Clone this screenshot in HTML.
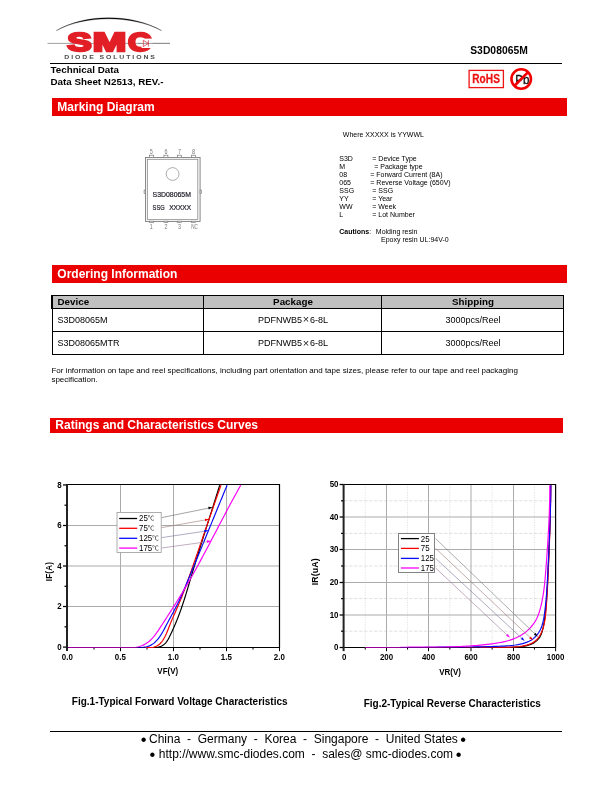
<!DOCTYPE html>
<html><head><meta charset="utf-8"><title>S3D08065M</title>
<style>
html,body{margin:0;padding:0;background:#fff;}
body{width:612px;height:792px;position:relative;overflow:hidden;font-family:"Liberation Sans","Noto Sans CJK SC",sans-serif;color:#000;}
.a{position:absolute;white-space:pre;line-height:1;}
.b{font-weight:bold;}
.bar{position:absolute;left:52px;width:515px;height:18px;background:#ea0000;color:#fff;font-weight:bold;font-size:12px;line-height:18px;padding-left:5.3px;box-sizing:border-box;white-space:nowrap;}
.hl{position:absolute;background:#000;}
.m{font-size:7px;}
.bu{display:inline-block;width:4.2px;font-size:16.5px;line-height:0;position:relative;top:1.7px;left:-0.8px;}
.x{font-size:11px;line-height:0;padding:0 0.7px;color:#222;position:relative;top:0.6px;}
.tb{position:absolute;box-sizing:border-box;}
.tc{position:absolute;font-size:9px;line-height:1;white-space:nowrap;text-align:center;}
svg{position:absolute;overflow:visible;}
svg text{font-family:"Liberation Sans","Noto Sans CJK SC",sans-serif;}
.tk{font-size:8px;font-weight:bold;}
.lg{font-size:8px;}
</style></head><body>
<!-- logo -->
<svg style="left:0;top:0" width="220" height="64" viewBox="0 0 220 64">
<path d="M56.4 30.6 C 85 13.5, 132 13.5, 161.5 30.6 C 132 14.9, 85 14.9, 56.4 30.6 Z" fill="#000" stroke="#000" stroke-width="0.3"/>
<line x1="47.5" y1="43.4" x2="170" y2="43.4" stroke="#888" stroke-width="0.8"/>
<g font-weight="bold" font-size="26.6" fill="#e21f26" stroke="#e21f26" stroke-width="2.4" stroke-linejoin="miter">
<text transform="translate(67.35,51.05) scale(1.376,1)">S</text>
<text transform="translate(92.75,51.05) scale(1.512,1)">M</text>
<text transform="translate(128,51.05) scale(1.214,1)">C</text>
</g>
<rect x="141.5" y="38.6" width="11" height="9.4" fill="#fff"/>
<line x1="138" y1="43.4" x2="170" y2="43.4" stroke="#888" stroke-width="0.8"/>
<path d="M143.3 40.2 V46.6 L148.2 43.4 Z M148.4 40.2 V46.6" fill="none" stroke="#c23" stroke-width="0.7"/>
<text transform="translate(64.3,58.55) scale(1.5,1)" font-weight="bold" font-size="4.6" letter-spacing="1.27" fill="#4a4a4a">DIODE SOLUTIONS</text>
</svg>
<!-- header -->
<div class="hl" style="left:50px;top:63px;width:512px;height:1px;"></div>
<div class="a b" style="left:50.5px;top:65px;font-size:9.8px;">Technical Data</div>
<div class="a b" style="left:50.5px;top:76.7px;font-size:9.8px;">Data Sheet N2513, REV.-</div>
<div class="a b" style="left:470.2px;top:46px;font-size:10.3px;letter-spacing:0.05px;">S3D08065M</div>
<svg style="left:460px;top:64px" width="80" height="30" viewBox="460 64 80 30">
<rect x="469.1" y="70.4" width="34.3" height="17.2" fill="#fff" stroke="#ee1414" stroke-width="1.3"/>
<text x="472.3" y="83.4" font-weight="bold" font-size="12.6" fill="#ee1414" stroke="#ee1414" stroke-width="0.3" textLength="27.6" lengthAdjust="spacingAndGlyphs">RoHS</text>
<text x="515.2" y="83.7" font-size="13.5" fill="#111" stroke="#111" stroke-width="0.35" textLength="14.1" lengthAdjust="spacingAndGlyphs">Pb</text>
<circle cx="521.2" cy="79.05" r="9.75" fill="none" stroke="#f20000" stroke-width="2.6"/>
<line x1="528.1" y1="72.1" x2="514.3" y2="86" stroke="#f20000" stroke-width="2.6"/>
</svg>
<div class="bar" style="top:98px;">Marking Diagram</div>
<!-- package outline -->
<svg style="left:0;top:0" width="612" height="260" viewBox="0 0 612 260">
<rect x="145.4" y="157.4" width="54.7" height="64" fill="#f4f4f4" stroke="#707070" stroke-width="0.8"/>
<rect x="147.5" y="159.3" width="50.3" height="60.3" fill="#fff" stroke="#808080" stroke-width="0.7"/>
<g fill="#fff" stroke="#7a7a7a" stroke-width="0.7">
<circle cx="172.6" cy="174" r="6.4" stroke="#8a8a8a"/>
<rect x="149.4" y="155.2" width="4.3" height="2.3"/><rect x="163.9" y="155.2" width="4" height="2.3"/><rect x="177.5" y="155.2" width="4" height="2.3"/><rect x="191.5" y="155.2" width="4" height="2.3"/>
<rect x="149.4" y="221.2" width="4.3" height="1.3"/><rect x="163.9" y="221.2" width="4" height="1.3"/><rect x="177.3" y="221.2" width="4.2" height="1.3"/><rect x="191.5" y="221.2" width="4.1" height="1.3"/>
<rect x="144.1" y="190.1" width="1.2" height="3.4"/><rect x="200.1" y="190.1" width="1.2" height="3.4"/>
</g>
<g font-size="6.8" fill="#777" text-anchor="middle">
<text transform="translate(151.3,153.7) scale(0.8,1)">5</text><text transform="translate(165.9,153.7) scale(0.8,1)">6</text><text transform="translate(179.5,153.7) scale(0.8,1)">7</text><text transform="translate(193.5,153.7) scale(0.8,1)">8</text>
<text transform="translate(151.3,229) scale(0.8,1)">1</text><text transform="translate(165.9,229) scale(0.8,1)">2</text><text transform="translate(179.5,229) scale(0.8,1)">3</text><text transform="translate(194.6,229) scale(0.72,1)" font-size="6.4">NC</text>
</g>
<g font-size="7" fill="#1c1c28" stroke="#1c1c28" stroke-width="0.2">
<text x="152.6" y="197.4" textLength="38.3" lengthAdjust="spacingAndGlyphs">S3D08065M</text>
<text x="152.6" y="210" textLength="12" lengthAdjust="spacingAndGlyphs">SSG</text>
<text x="169.2" y="210" textLength="21.9" lengthAdjust="spacingAndGlyphs">XXXXX</text>
</g>
</svg>
<!-- marking text -->
<div class="a m" style="left:342.8px;top:131.3px;">Where XXXXX is YYWWL</div>
<div class="a m" style="left:339.3px;top:155.40px;">S3D</div><div class="a m" style="left:372.3px;top:155.40px;">= Device Type</div>
<div class="a m" style="left:339.3px;top:163.35px;">M</div><div class="a m" style="left:374.2px;top:163.35px;">= Package type</div>
<div class="a m" style="left:339.3px;top:171.30px;">08</div><div class="a m" style="left:370.3px;top:171.30px;">= Forward Current (8A)</div>
<div class="a m" style="left:339.3px;top:179.25px;">065</div><div class="a m" style="left:370.3px;top:179.25px;">= Reverse Voltage (650V)</div>
<div class="a m" style="left:339.3px;top:187.20px;">SSG</div><div class="a m" style="left:372.3px;top:187.20px;">= SSG</div>
<div class="a m" style="left:339.3px;top:195.15px;">YY</div><div class="a m" style="left:372.3px;top:195.15px;">= Year</div>
<div class="a m" style="left:339.3px;top:203.10px;">WW</div><div class="a m" style="left:372.3px;top:203.10px;">= Week</div>
<div class="a m" style="left:339.3px;top:211.05px;">L</div><div class="a m" style="left:372.3px;top:211.05px;">= Lot Number</div>
<div class="a m b" style="left:339.3px;top:227.8px;">Cautions</div><div class="a m" style="left:368.6px;top:227.8px;font-size:7px;color:#666">：</div><div class="a m" style="left:375.8px;top:227.8px;">Molding resin</div>
<div class="a m" style="left:381px;top:235.8px;">Epoxy resin UL:94V-0</div>
<div class="bar" style="top:265px;">Ordering Information</div>
<!-- table -->
<div class="tb" style="left:52px;top:296px;width:511px;height:13px;background:#c0c0c0;"></div>
<div class="tb" style="left:52px;top:295px;width:512px;height:60px;border:1px solid #000;"></div>
<div class="hl" style="left:51px;top:295px;width:1px;height:14px;"></div>
<div class="hl" style="left:52px;top:308px;width:512px;height:1px;"></div>
<div class="hl" style="left:52px;top:331px;width:512px;height:1px;"></div>
<div class="hl" style="left:203px;top:295px;width:1px;height:60px;"></div>
<div class="hl" style="left:381px;top:295px;width:1px;height:60px;"></div>
<div class="tc b" style="left:57.5px;top:297.2px;font-size:9.8px;">Device</div>
<div class="tc b" style="left:204px;width:178px;top:297.2px;font-size:9.8px;">Package</div>
<div class="tc b" style="left:382px;width:182px;top:297.2px;font-size:9.8px;">Shipping</div>
<div class="tc" style="left:57.5px;top:315.5px;">S3D08065M</div>
<div class="tc" style="left:204px;width:178px;top:315.5px;">PDFNWB5<span class="x">×</span>6-8L</div>
<div class="tc" style="left:382px;width:182px;top:315.5px;">3000pcs/Reel</div>
<div class="tc" style="left:57.5px;top:339px;">S3D08065MTR</div>
<div class="tc" style="left:204px;width:178px;top:339px;">PDFNWB5<span class="x">×</span>6-8L</div>
<div class="tc" style="left:382px;width:182px;top:339px;">3000pcs/Reel</div>
<div class="a" style="left:51.4px;top:366px;font-size:8px;line-height:9.2px;">For information on tape and reel specifications, including part orientation and tape sizes, please refer to our tape and reel packaging
specification.</div>

<div class="bar" style="top:418px;left:50px;width:513px;height:15px;line-height:15px;">Ratings and Characteristics Curves</div>
<svg style="left:0;top:0" width="612" height="792" viewBox="0 0 612 792">
<g id="fig1">
<line x1="120.5" y1="484.5" x2="120.5" y2="647.5" stroke="#ababab" stroke-width="1"/>
<line x1="173.5" y1="484.5" x2="173.5" y2="647.5" stroke="#ababab" stroke-width="1"/>
<line x1="226.5" y1="484.5" x2="226.5" y2="647.5" stroke="#ababab" stroke-width="1"/>
<line x1="67.5" y1="606.5" x2="279.5" y2="606.5" stroke="#ababab" stroke-width="1"/>
<line x1="67.5" y1="566" x2="279.5" y2="566" stroke="#ababab" stroke-width="1"/>
<line x1="67.5" y1="525.5" x2="279.5" y2="525.5" stroke="#ababab" stroke-width="1"/>
<rect x="117" y="512.5" width="44.2" height="40" fill="#fff" stroke="#999" stroke-width="0.8"/>
<line x1="119.2" y1="518.5" x2="137.2" y2="518.5" stroke="#000000" stroke-width="1.3"/>
<text transform="translate(139,521.4) scale(0.9,1)" font-size="8.8" text-anchor="start">25</text>
<text transform="translate(147.8,520.3) scale(0.9,0.8)" font-size="7.4" fill="#2a2a2a">℃</text>
<line x1="119.2" y1="528.3" x2="137.2" y2="528.3" stroke="#f80000" stroke-width="1.3"/>
<text transform="translate(139,531.2) scale(0.9,1)" font-size="8.8" text-anchor="start">75</text>
<text transform="translate(147.8,530.1) scale(0.9,0.8)" font-size="7.4" fill="#2a2a2a">℃</text>
<line x1="119.2" y1="538.3" x2="137.2" y2="538.3" stroke="#0a0af8" stroke-width="1.3"/>
<text transform="translate(139,541.2) scale(0.9,1)" font-size="8.8" text-anchor="start">125</text>
<text transform="translate(152.2,540.1) scale(0.9,0.8)" font-size="7.4" fill="#2a2a2a">℃</text>
<line x1="119.2" y1="548.1" x2="137.2" y2="548.1" stroke="#f800f8" stroke-width="1.3"/>
<text transform="translate(139,551) scale(0.9,1)" font-size="8.8" text-anchor="start">175</text>
<text transform="translate(152.2,549.9) scale(0.9,0.8)" font-size="7.4" fill="#2a2a2a">℃</text>
<path d="M67 484.5 H279.5 V647.5 H67" fill="none" stroke="#000" stroke-width="1.2"/>
<line x1="67" y1="483.9" x2="67" y2="651.1" stroke="#222" stroke-width="2"/>
<clipPath id="cp1"><rect x="68.4" y="483.85" width="211.1" height="164.5"/></clipPath>
<g clip-path="url(#cp1)">
<path d="M67.5 647.5 L155 647.5 L157.36 647.5 L159.46 646.87 L161.33 646.2 L162.97 645.28 L164.43 644.15 L165.72 642.85 L166.87 641.39 L167.9 639.8 L168.84 638.11 L169.72 636.35 L170.58 634.56 L171.43 632.73 L172.27 630.9 L173.11 629.04 L173.94 627.18 L174.76 625.3 L175.56 623.41 L176.35 621.52 L177.12 619.62 L177.88 617.72 L178.61 615.82 L179.33 613.92 L180.03 612.02 L180.72 610.11 L181.39 608.2 L182.04 606.29 L182.69 604.38 L183.32 602.47 L183.94 600.56 L184.56 598.64 L185.16 596.73 L185.76 594.81 L186.35 592.9 L186.93 590.98 L187.51 589.06 L188.08 587.14 L188.65 585.22 L189.22 583.3 L189.79 581.37 L190.36 579.45 L190.93 577.53 L191.5 575.61 L192.07 573.68 L192.65 571.76 L193.23 569.84 L193.81 567.91 L194.39 565.99 L194.98 564.06 L195.56 562.14 L196.15 560.21 L196.74 558.29 L197.34 556.36 L197.93 554.43 L198.53 552.51 L199.12 550.58 L199.72 548.66 L200.32 546.73 L200.92 544.8 L201.53 542.88 L202.13 540.95 L202.74 539.03 L203.34 537.1 L203.95 535.17 L204.55 533.25 L205.16 531.32 L205.77 529.4 L206.38 527.47 L206.99 525.55 L207.6 523.62 L208.21 521.7 L208.82 519.77 L209.43 517.85 L210.03 515.93 L210.64 514 L211.25 512.08 L211.86 510.16 L212.47 508.23 L213.08 506.31 L213.68 504.39 L214.29 502.47 L214.9 500.55 L215.5 498.63 L216.1 496.71 L216.71 494.79 L217.31 492.87 L217.91 490.95 L218.51 489.03 L219.1 487.12 L219.7 485.2" fill="none" stroke="#000000" stroke-width="1.18" stroke-linejoin="round"/>
<path d="M67.5 647.5 L149 647.5 L151.36 647.5 L153.5 647.22 L155.45 646.66 L157.21 645.83 L158.8 644.77 L160.24 643.5 L161.53 642.06 L162.7 640.49 L163.77 638.82 L164.74 637.08 L165.63 635.29 L166.46 633.45 L167.25 631.57 L168.01 629.67 L168.75 627.75 L169.5 625.82 L170.26 623.89 L171.04 621.97 L171.84 620.05 L172.66 618.13 L173.49 616.22 L174.32 614.31 L175.16 612.4 L176 610.5 L176.84 608.59 L177.67 606.69 L178.5 604.79 L179.31 602.89 L180.11 600.99 L180.88 599.1 L181.64 597.2 L182.39 595.3 L183.12 593.4 L183.84 591.5 L184.54 589.6 L185.24 587.7 L185.93 585.79 L186.61 583.89 L187.29 581.98 L187.97 580.07 L188.65 578.15 L189.33 576.24 L190.01 574.32 L190.68 572.4 L191.36 570.47 L192.03 568.55 L192.71 566.62 L193.38 564.69 L194.05 562.75 L194.72 560.82 L195.4 558.88 L196.07 556.94 L196.74 555.01 L197.41 553.07 L198.08 551.12 L198.75 549.18 L199.42 547.24 L200.09 545.29 L200.76 543.35 L201.43 541.4 L202.1 539.45 L202.77 537.51 L203.44 535.56 L204.11 533.61 L204.78 531.67 L205.45 529.72 L206.12 527.77 L206.79 525.82 L207.46 523.88 L208.13 521.93 L208.8 519.98 L209.48 518.04 L210.15 516.1 L210.82 514.15 L211.49 512.21 L212.17 510.27 L212.84 508.33 L213.52 506.39 L214.19 504.46 L214.87 502.52 L215.55 500.59 L216.23 498.66 L216.91 496.73 L217.59 494.8 L218.27 492.88 L218.95 490.95 L219.63 489.03 L220.31 487.11 L221 485.2" fill="none" stroke="#f80000" stroke-width="1.18" stroke-linejoin="round"/>
<path d="M67.5 647.5 L140 647.5 L142.34 647.5 L144.57 647.12 L146.67 646.75 L148.67 646.18 L150.55 645.38 L152.32 644.35 L153.99 643.11 L155.54 641.71 L156.99 640.18 L158.34 638.56 L159.59 636.88 L160.76 635.15 L161.86 633.38 L162.91 631.57 L163.92 629.72 L164.91 627.86 L165.89 625.97 L166.88 624.08 L167.88 622.18 L168.9 620.29 L169.92 618.39 L170.95 616.48 L171.99 614.58 L173.02 612.67 L174.04 610.76 L175.05 608.84 L176.05 606.93 L177.03 605.01 L177.98 603.08 L178.91 601.16 L179.81 599.23 L180.69 597.3 L181.55 595.37 L182.4 593.44 L183.24 591.5 L184.06 589.56 L184.88 587.62 L185.7 585.67 L186.52 583.73 L187.34 581.78 L188.15 579.82 L188.97 577.87 L189.78 575.91 L190.6 573.96 L191.41 572 L192.22 570.03 L193.04 568.07 L193.85 566.1 L194.67 564.14 L195.48 562.17 L196.29 560.2 L197.1 558.23 L197.92 556.25 L198.73 554.28 L199.54 552.31 L200.35 550.33 L201.16 548.35 L201.97 546.38 L202.78 544.4 L203.6 542.42 L204.41 540.44 L205.22 538.46 L206.03 536.48 L206.84 534.5 L207.65 532.52 L208.46 530.54 L209.27 528.56 L210.08 526.58 L210.89 524.6 L211.7 522.62 L212.51 520.64 L213.32 518.67 L214.13 516.69 L214.94 514.71 L215.75 512.73 L216.56 510.76 L217.37 508.78 L218.18 506.81 L218.99 504.84 L219.8 502.87 L220.61 500.9 L221.42 498.93 L222.23 496.96 L223.04 495 L223.85 493.03 L224.67 491.07 L225.48 489.11 L226.29 487.16 L227.1 485.2" fill="none" stroke="#0a0af8" stroke-width="1.18" stroke-linejoin="round"/>
<path d="M67.5 647.5 L128 647.5 L130.46 647.5 L132.85 647.5 L135.18 647.5 L137.44 647.04 L139.62 646.52 L141.73 645.81 L143.75 644.91 L145.68 643.84 L147.52 642.6 L149.27 641.22 L150.92 639.71 L152.48 638.09 L153.95 636.36 L155.36 634.56 L156.72 632.7 L158.04 630.79 L159.33 628.86 L160.6 626.92 L161.87 624.98 L163.14 623.04 L164.4 621.1 L165.66 619.16 L166.91 617.23 L168.16 615.3 L169.41 613.36 L170.64 611.43 L171.88 609.5 L173.1 607.56 L174.33 605.63 L175.54 603.69 L176.75 601.75 L177.96 599.81 L179.16 597.86 L180.35 595.92 L181.53 593.96 L182.71 592.01 L183.88 590.05 L185.05 588.08 L186.21 586.11 L187.36 584.14 L188.5 582.16 L189.64 580.17 L190.78 578.18 L191.91 576.19 L193.03 574.2 L194.15 572.2 L195.26 570.19 L196.37 568.19 L197.47 566.18 L198.57 564.16 L199.67 562.15 L200.76 560.13 L201.85 558.11 L202.94 556.09 L204.02 554.07 L205.1 552.04 L206.18 550.01 L207.25 547.98 L208.32 545.95 L209.4 543.92 L210.47 541.88 L211.53 539.85 L212.6 537.82 L213.67 535.78 L214.73 533.74 L215.8 531.71 L216.86 529.67 L217.93 527.64 L218.99 525.6 L220.06 523.56 L221.13 521.53 L222.19 519.5 L223.26 517.46 L224.33 515.43 L225.4 513.4 L226.48 511.37 L227.55 509.34 L228.63 507.32 L229.71 505.29 L230.79 503.27 L231.88 501.25 L232.97 499.24 L234.06 497.22 L235.16 495.21 L236.26 493.2 L237.36 491.2 L238.47 489.19 L239.58 487.2 L240.7 485.2" fill="none" stroke="#f800f8" stroke-width="1.18" stroke-linejoin="round"/>
</g>
<line x1="67.5" y1="647.5" x2="145" y2="647.5" stroke="#000" stroke-width="1" opacity="0.38"/>
<line x1="161.8" y1="517.6" x2="209.6" y2="507.9" stroke="#666" stroke-width="0.6"/>
<path d="M212.6 507.3 L208.74 509.41 L208.23 506.86 Z" fill="#000000"/>
<line x1="161.8" y1="527.6" x2="206.2" y2="519.8" stroke="#977" stroke-width="0.6"/>
<path d="M209.2 519.2 L205.29 521.21 L204.84 518.65 Z" fill="#f80000"/>
<line x1="161.8" y1="537.6" x2="205.6" y2="531.1" stroke="#779" stroke-width="0.6"/>
<path d="M208.6 530.5 L204.64 532.42 L204.25 529.84 Z" fill="#0a0af8"/>
<line x1="161.8" y1="548" x2="208.2" y2="541.6" stroke="#979" stroke-width="0.6"/>
<path d="M211.2 541 L207.22 542.88 L206.86 540.3 Z" fill="#f800f8"/>
<line x1="63" y1="647.1" x2="66.5" y2="647.1" stroke="#000" stroke-width="1.25"/>
<line x1="64.5" y1="626.83" x2="66.5" y2="626.83" stroke="#000" stroke-width="1.25"/>
<line x1="63" y1="606.5" x2="66.5" y2="606.5" stroke="#000" stroke-width="1.25"/>
<line x1="64.5" y1="586.29" x2="66.5" y2="586.29" stroke="#000" stroke-width="1.25"/>
<line x1="63" y1="566" x2="66.5" y2="566" stroke="#000" stroke-width="1.25"/>
<line x1="64.5" y1="545.75" x2="66.5" y2="545.75" stroke="#000" stroke-width="1.25"/>
<line x1="63" y1="525.5" x2="66.5" y2="525.5" stroke="#000" stroke-width="1.25"/>
<line x1="64.5" y1="505.21" x2="66.5" y2="505.21" stroke="#000" stroke-width="1.25"/>
<line x1="63" y1="484.94" x2="66.5" y2="484.94" stroke="#000" stroke-width="1.25"/>
<line x1="94" y1="648" x2="94" y2="649.6" stroke="#000" stroke-width="1"/>
<line x1="120.5" y1="648" x2="120.5" y2="651.2" stroke="#000" stroke-width="1"/>
<line x1="147" y1="648" x2="147" y2="649.6" stroke="#000" stroke-width="1"/>
<line x1="173.5" y1="648" x2="173.5" y2="651.2" stroke="#000" stroke-width="1"/>
<line x1="200" y1="648" x2="200" y2="649.6" stroke="#000" stroke-width="1"/>
<line x1="226.5" y1="648" x2="226.5" y2="651.2" stroke="#000" stroke-width="1"/>
<line x1="253" y1="648" x2="253" y2="649.6" stroke="#000" stroke-width="1"/>
<line x1="279.5" y1="648" x2="279.5" y2="651.2" stroke="#000" stroke-width="1"/>
<text transform="translate(61.6,650) scale(0.88,1)" font-size="9" font-weight="bold" text-anchor="end">0</text>
<text transform="translate(61.6,609.4) scale(0.88,1)" font-size="9" font-weight="bold" text-anchor="end">2</text>
<text transform="translate(61.6,568.9) scale(0.88,1)" font-size="9" font-weight="bold" text-anchor="end">4</text>
<text transform="translate(61.6,528.4) scale(0.88,1)" font-size="9" font-weight="bold" text-anchor="end">6</text>
<text transform="translate(61.6,487.84) scale(0.88,1)" font-size="9" font-weight="bold" text-anchor="end">8</text>
<text transform="translate(67.3,659.6) scale(0.88,1)" font-size="9" font-weight="bold" text-anchor="middle">0.0</text>
<text transform="translate(120.3,659.6) scale(0.88,1)" font-size="9" font-weight="bold" text-anchor="middle">0.5</text>
<text transform="translate(173.3,659.6) scale(0.88,1)" font-size="9" font-weight="bold" text-anchor="middle">1.0</text>
<text transform="translate(226.3,659.6) scale(0.88,1)" font-size="9" font-weight="bold" text-anchor="middle">1.5</text>
<text transform="translate(279.3,659.6) scale(0.88,1)" font-size="9" font-weight="bold" text-anchor="middle">2.0</text>
<text transform="translate(157.3,674.3) scale(0.93,1)" font-size="8.6" font-weight="bold" text-anchor="start">VF(V)</text>
<text transform="translate(51.6,581.2) rotate(-90) scale(0.86,1)" font-size="9.4" font-weight="bold" letter-spacing="0.2">IF(A)</text>
<text x="71.8" y="705.1" font-weight="bold" font-size="10">Fig.1-Typical Forward Voltage Characteristics</text>
</g>
<g id="fig2">
<line x1="365.25" y1="484.5" x2="365.25" y2="647.5" stroke="#e2e2e2" stroke-width="1" stroke-dasharray="1.2 1.3"/>
<line x1="407.55" y1="484.5" x2="407.55" y2="647.5" stroke="#e2e2e2" stroke-width="1" stroke-dasharray="1.2 1.3"/>
<line x1="449.85" y1="484.5" x2="449.85" y2="647.5" stroke="#e2e2e2" stroke-width="1" stroke-dasharray="1.2 1.3"/>
<line x1="492.15" y1="484.5" x2="492.15" y2="647.5" stroke="#e2e2e2" stroke-width="1" stroke-dasharray="1.2 1.3"/>
<line x1="534.45" y1="484.5" x2="534.45" y2="647.5" stroke="#e2e2e2" stroke-width="1" stroke-dasharray="1.2 1.3"/>
<line x1="344.1" y1="631.2" x2="555.6" y2="631.2" stroke="#e0e0e0" stroke-width="1" stroke-dasharray="3.4 1.6"/>
<line x1="344.1" y1="598.6" x2="555.6" y2="598.6" stroke="#e0e0e0" stroke-width="1" stroke-dasharray="3.4 1.6"/>
<line x1="344.1" y1="566" x2="555.6" y2="566" stroke="#e0e0e0" stroke-width="1" stroke-dasharray="3.4 1.6"/>
<line x1="344.1" y1="533.4" x2="555.6" y2="533.4" stroke="#e0e0e0" stroke-width="1" stroke-dasharray="3.4 1.6"/>
<line x1="344.1" y1="500.8" x2="555.6" y2="500.8" stroke="#e0e0e0" stroke-width="1" stroke-dasharray="3.4 1.6"/>
<line x1="386.5" y1="484.5" x2="386.5" y2="647.5" stroke="#ababab" stroke-width="1"/>
<line x1="428.5" y1="484.5" x2="428.5" y2="647.5" stroke="#ababab" stroke-width="1"/>
<line x1="471" y1="484.5" x2="471" y2="647.5" stroke="#ababab" stroke-width="1"/>
<line x1="513.5" y1="484.5" x2="513.5" y2="647.5" stroke="#ababab" stroke-width="1"/>
<line x1="344.1" y1="615" x2="555.6" y2="615" stroke="#ababab" stroke-width="1"/>
<line x1="344.1" y1="582.5" x2="555.6" y2="582.5" stroke="#ababab" stroke-width="1"/>
<line x1="344.1" y1="549.5" x2="555.6" y2="549.5" stroke="#ababab" stroke-width="1"/>
<line x1="344.1" y1="517" x2="555.6" y2="517" stroke="#ababab" stroke-width="1"/>
<rect x="398.5" y="533.5" width="36" height="39" fill="#fff" stroke="#777" stroke-width="0.9"/>
<line x1="400.9" y1="538.6" x2="418.9" y2="538.6" stroke="#000000" stroke-width="1.3"/>
<text transform="translate(420.8,541.6) scale(0.9,1)" font-size="8.8" text-anchor="start">25</text>
<line x1="400.9" y1="548.4" x2="418.9" y2="548.4" stroke="#f80000" stroke-width="1.3"/>
<text transform="translate(420.8,551.4) scale(0.9,1)" font-size="8.8" text-anchor="start">75</text>
<line x1="400.9" y1="558.4" x2="418.9" y2="558.4" stroke="#0a0af8" stroke-width="1.3"/>
<text transform="translate(420.8,561.4) scale(0.9,1)" font-size="8.8" text-anchor="start">125</text>
<line x1="400.9" y1="568" x2="418.9" y2="568" stroke="#f800f8" stroke-width="1.3"/>
<text transform="translate(420.8,571) scale(0.9,1)" font-size="8.8" text-anchor="start">175</text>
<path d="M343.6 484.5 H555.6 V647.5 H343.6" fill="none" stroke="#000" stroke-width="1.2"/>
<line x1="343.6" y1="483.9" x2="343.6" y2="651.1" stroke="#222" stroke-width="2"/>
<clipPath id="cp2"><rect x="345" y="483.85" width="210.6" height="164.5"/></clipPath>
<g clip-path="url(#cp2)">
<path d="M365 647.5 L367.37 647.5 L369.74 647.5 L372.11 647.5 L374.48 647.5 L376.86 647.5 L379.24 647.5 L381.62 647.5 L384 647.5 L386.38 647.5 L388.76 647.5 L391.15 647.5 L393.54 647.5 L395.92 647.5 L398.31 647.5 L400.7 647.5 L403.09 647.5 L405.48 647.5 L407.87 647.5 L410.27 647.5 L412.66 647.5 L415.05 647.5 L417.44 647.5 L419.83 647.5 L422.22 647.5 L424.61 647.5 L427 647.5 L429.39 647.5 L431.77 647.5 L434.16 647.5 L436.54 647.5 L438.93 647.5 L441.31 647.5 L443.69 647.5 L446.07 647.5 L448.44 647.5 L450.82 647.5 L453.19 647.5 L455.56 647.5 L457.93 647.5 L460.29 647.5 L462.66 647.5 L465.02 647.5 L467.38 647.5 L469.74 647.5 L472.1 647.5 L474.47 647.25 L476.83 647.24 L479.2 647.23 L481.58 647.22 L483.95 647.22 L486.34 647.21 L488.73 647.21 L491.13 647.22 L493.53 647.22 L495.94 647.23 L498.37 647.25 L500.8 647.5 L503.24 647.5 L505.69 647.5 L508.13 647.5 L510.56 647.5 L512.99 647.22 L515.39 647.12 L517.77 646.98 L520.12 646.79 L522.44 646.53 L524.72 646.17 L526.95 645.68 L529.14 645.04 L531.27 644.2 L533.33 643.15 L535.29 641.87 L537.1 640.39 L538.68 638.7 L539.98 636.82 L541.01 634.78 L541.82 632.62 L542.48 630.37 L543.04 628.06 L543.53 625.72 L543.97 623.35 L544.36 620.96 L544.7 618.55 L545 616.14 L545.28 613.72 L545.53 611.31 L545.77 608.9 L545.99 606.5 L546.2 604.11 L546.4 601.72 L546.58 599.34 L546.75 596.96 L546.91 594.59 L547.05 592.21 L547.19 589.85 L547.33 587.48 L547.45 585.12 L547.57 582.75 L547.69 580.39 L547.8 578.03 L547.9 575.66 L548.01 573.3 L548.12 570.93 L548.22 568.56 L548.32 566.19 L548.43 563.82 L548.53 561.44 L548.63 559.06 L548.73 556.69 L548.83 554.31 L548.92 551.93 L549.02 549.54 L549.11 547.16 L549.21 544.78 L549.3 542.39 L549.39 540.01 L549.48 537.62 L549.56 535.23 L549.64 532.85 L549.73 530.46 L549.8 528.07 L549.88 525.68 L549.95 523.3 L550.03 520.91 L550.09 518.52 L550.16 516.14 L550.22 513.75 L550.28 511.36 L550.34 508.98 L550.39 506.6 L550.44 504.21 L550.49 501.83 L550.53 499.45 L550.57 497.07 L550.6 494.69 L550.63 492.32 L550.66 489.94 L550.68 487.57 L550.7 485.2" fill="none" stroke="#000000" stroke-width="1.18" stroke-linejoin="round"/>
<path d="M365 647.5 L367.36 647.5 L369.73 647.5 L372.1 647.5 L374.47 647.5 L376.84 647.5 L379.21 647.5 L381.59 647.5 L383.96 647.5 L386.34 647.5 L388.72 647.5 L391.1 647.5 L393.48 647.5 L395.86 647.5 L398.24 647.5 L400.62 647.5 L403.01 647.5 L405.39 647.5 L407.77 647.5 L410.16 647.5 L412.54 647.5 L414.92 647.5 L417.31 647.5 L419.69 647.5 L422.07 647.5 L424.46 647.5 L426.84 647.5 L429.22 647.5 L431.6 647.5 L433.98 647.5 L436.36 647.5 L438.74 647.5 L441.12 647.5 L443.5 647.5 L445.87 647.5 L448.25 647.5 L450.62 647.5 L452.99 647.5 L455.36 647.5 L457.73 647.5 L460.1 647.5 L462.46 647.5 L464.82 647.5 L467.18 647.5 L469.54 647.5 L471.9 647.5 L474.26 647.5 L476.62 647.25 L478.98 647.23 L481.35 647.22 L483.71 647.21 L486.08 647.2 L488.45 647.19 L490.83 647.18 L493.22 647.17 L495.61 647.15 L498 647.14 L500.41 647.13 L502.82 647.12 L505.24 647.11 L507.67 647.1 L510.1 647.07 L512.53 647.01 L514.95 646.9 L517.36 646.72 L519.75 646.47 L522.12 646.12 L524.46 645.66 L526.76 645.08 L528.98 644.35 L531.11 643.47 L533.11 642.42 L534.97 641.17 L536.64 639.73 L538.12 638.08 L539.44 636.27 L540.58 634.3 L541.58 632.21 L542.45 630.01 L543.19 627.75 L543.81 625.43 L544.34 623.09 L544.78 620.71 L545.15 618.32 L545.45 615.92 L545.71 613.5 L545.93 611.09 L546.12 608.67 L546.3 606.27 L546.48 603.87 L546.64 601.47 L546.8 599.09 L546.95 596.71 L547.1 594.34 L547.23 591.97 L547.37 589.6 L547.5 587.24 L547.62 584.88 L547.74 582.53 L547.86 580.17 L547.97 577.81 L548.08 575.45 L548.19 573.1 L548.3 570.74 L548.41 568.37 L548.51 566.01 L548.61 563.64 L548.72 561.27 L548.82 558.9 L548.91 556.53 L549.01 554.16 L549.1 551.78 L549.2 549.4 L549.29 547.03 L549.38 544.65 L549.46 542.27 L549.55 539.89 L549.63 537.51 L549.71 535.12 L549.79 532.74 L549.86 530.36 L549.94 527.98 L550.01 525.59 L550.08 523.21 L550.14 520.83 L550.21 518.45 L550.27 516.06 L550.33 513.68 L550.38 511.3 L550.43 508.92 L550.48 506.54 L550.53 504.17 L550.58 501.79 L550.62 499.42 L550.66 497.04 L550.69 494.67 L550.72 492.3 L550.75 489.93 L550.78 487.56 L550.8 485.2" fill="none" stroke="#f80000" stroke-width="1.18" stroke-linejoin="round"/>
<path d="M365 647.5 L367.34 647.5 L369.68 647.5 L372.02 647.5 L374.37 647.5 L376.71 647.5 L379.06 647.5 L381.41 647.5 L383.76 647.5 L386.11 647.5 L388.46 647.5 L390.82 647.5 L393.17 647.5 L395.53 647.5 L397.88 647.5 L400.24 647.5 L402.59 647.5 L404.95 647.5 L407.31 647.5 L409.66 647.5 L412.02 647.5 L414.38 647.5 L416.74 647.5 L419.09 647.5 L421.45 647.5 L423.81 647.5 L426.16 647.25 L428.52 647.24 L430.87 647.24 L433.23 647.23 L435.58 647.22 L437.93 647.21 L440.28 647.2 L442.63 647.19 L444.98 647.18 L447.33 647.17 L449.68 647.15 L452.02 647.14 L454.36 647.12 L456.7 647.11 L459.04 647.09 L461.38 647.07 L463.71 647.05 L466.05 647.03 L468.38 647 L470.72 646.98 L473.05 646.94 L475.39 646.91 L477.72 646.87 L480.06 646.83 L482.41 646.78 L484.75 646.73 L487.1 646.67 L489.46 646.61 L491.82 646.54 L494.19 646.46 L496.56 646.37 L498.94 646.28 L501.33 646.18 L503.72 646.06 L506.12 645.92 L508.51 645.75 L510.89 645.54 L513.27 645.29 L515.63 644.97 L517.98 644.58 L520.3 644.12 L522.59 643.57 L524.84 642.91 L527.01 642.14 L529.1 641.22 L531.08 640.15 L532.93 638.9 L534.64 637.48 L536.2 635.89 L537.63 634.16 L538.9 632.29 L540.03 630.31 L541.01 628.22 L541.84 626.05 L542.54 623.8 L543.12 621.49 L543.61 619.14 L544.03 616.76 L544.39 614.37 L544.71 611.98 L545.02 609.59 L545.3 607.22 L545.56 604.85 L545.8 602.49 L546.03 600.14 L546.23 597.79 L546.43 595.44 L546.61 593.1 L546.77 590.77 L546.93 588.43 L547.08 586.1 L547.22 583.77 L547.35 581.44 L547.47 579.11 L547.6 576.78 L547.72 574.45 L547.83 572.12 L547.95 569.79 L548.07 567.45 L548.18 565.11 L548.3 562.77 L548.41 560.43 L548.52 558.09 L548.64 555.74 L548.75 553.39 L548.86 551.04 L548.97 548.69 L549.07 546.34 L549.18 543.99 L549.28 541.64 L549.38 539.28 L549.48 536.93 L549.58 534.57 L549.67 532.22 L549.76 529.86 L549.85 527.51 L549.94 525.15 L550.02 522.79 L550.1 520.44 L550.17 518.08 L550.25 515.73 L550.31 513.37 L550.38 511.02 L550.44 508.66 L550.5 506.31 L550.55 503.96 L550.6 501.61 L550.64 499.26 L550.68 496.91 L550.71 494.57 L550.74 492.22 L550.77 489.88 L550.79 487.54 L550.8 485.2" fill="none" stroke="#0a0af8" stroke-width="1.18" stroke-linejoin="round"/>
<path d="M365 647.5 L367.26 647.5 L369.52 647.5 L371.78 647.5 L374.04 647.5 L376.31 647.5 L378.57 647.5 L380.84 647.5 L383.11 647.5 L385.38 647.5 L387.66 647.5 L389.93 647.5 L392.21 647.5 L394.48 647.5 L396.76 647.5 L399.03 647.5 L401.31 647.24 L403.59 647.23 L405.87 647.22 L408.15 647.21 L410.42 647.21 L412.7 647.21 L414.98 647.2 L417.26 647.2 L419.53 647.2 L421.81 647.19 L424.08 647.19 L426.36 647.18 L428.63 647.17 L430.9 647.16 L433.18 647.14 L435.45 647.12 L437.71 647.1 L439.98 647.07 L442.25 647.04 L444.51 646.99 L446.77 646.95 L449.03 646.89 L451.29 646.83 L453.54 646.76 L455.8 646.68 L458.05 646.6 L460.3 646.5 L462.55 646.39 L464.8 646.28 L467.05 646.15 L469.31 646.01 L471.56 645.86 L473.82 645.7 L476.07 645.53 L478.34 645.34 L480.6 645.13 L482.87 644.91 L485.14 644.68 L487.41 644.42 L489.69 644.15 L491.98 643.85 L494.26 643.53 L496.55 643.18 L498.83 642.79 L501.09 642.36 L503.34 641.88 L505.57 641.35 L507.78 640.76 L509.96 640.11 L512.1 639.39 L514.22 638.58 L516.29 637.7 L518.31 636.73 L520.29 635.67 L522.21 634.51 L524.08 633.25 L525.88 631.88 L527.61 630.42 L529.25 628.86 L530.81 627.22 L532.27 625.5 L533.62 623.71 L534.85 621.85 L535.96 619.93 L536.96 617.95 L537.85 615.92 L538.65 613.85 L539.37 611.74 L540.01 609.6 L540.6 607.44 L541.14 605.25 L541.63 603.05 L542.1 600.84 L542.52 598.61 L542.92 596.38 L543.28 594.13 L543.61 591.87 L543.92 589.61 L544.21 587.34 L544.48 585.06 L544.72 582.78 L544.95 580.5 L545.16 578.21 L545.36 575.92 L545.55 573.63 L545.73 571.34 L545.91 569.05 L546.08 566.77 L546.25 564.49 L546.42 562.21 L546.58 559.93 L546.75 557.66 L546.91 555.39 L547.07 553.13 L547.22 550.86 L547.38 548.6 L547.53 546.34 L547.68 544.08 L547.82 541.83 L547.96 539.57 L548.1 537.32 L548.23 535.06 L548.36 532.81 L548.48 530.56 L548.6 528.3 L548.72 526.05 L548.83 523.8 L548.93 521.54 L549.03 519.29 L549.13 517.03 L549.22 514.77 L549.3 512.52 L549.38 510.25 L549.45 507.99 L549.52 505.73 L549.58 503.46 L549.63 501.19 L549.68 498.92 L549.72 496.64 L549.75 494.36 L549.77 492.08 L549.79 489.79 L549.8 487.5 L549.8 485.2" fill="none" stroke="#f800f8" stroke-width="1.18" stroke-linejoin="round"/>
</g>
<line x1="365" y1="647.5" x2="480" y2="647.5" stroke="#000" stroke-width="1" opacity="0.38"/>
<line x1="435.6" y1="538.6" x2="535.8" y2="634.8" stroke="#777" stroke-width="0.6"/>
<path d="M537.8 636.7 L533.87 634.73 L535.67 632.85 Z" fill="#000000"/>
<line x1="435.6" y1="548.4" x2="531" y2="638.4" stroke="#977" stroke-width="0.6"/>
<path d="M533 640.3 L529.05 638.36 L530.84 636.47 Z" fill="#f80000"/>
<line x1="435.6" y1="558.4" x2="522.7" y2="639.1" stroke="#779" stroke-width="0.6"/>
<path d="M524.7 641 L520.74 639.1 L522.5 637.19 Z" fill="#0a0af8"/>
<line x1="435.6" y1="568" x2="508" y2="635.9" stroke="#979" stroke-width="0.6"/>
<path d="M510 637.8 L506.05 635.87 L507.83 633.98 Z" fill="#f800f8"/>
<line x1="339.6" y1="647.5" x2="343.1" y2="647.5" stroke="#000" stroke-width="1.25"/>
<line x1="341.1" y1="631.2" x2="343.1" y2="631.2" stroke="#000" stroke-width="1.25"/>
<line x1="339.6" y1="615" x2="343.1" y2="615" stroke="#000" stroke-width="1.25"/>
<line x1="341.1" y1="598.6" x2="343.1" y2="598.6" stroke="#000" stroke-width="1.25"/>
<line x1="339.6" y1="582.5" x2="343.1" y2="582.5" stroke="#000" stroke-width="1.25"/>
<line x1="341.1" y1="566" x2="343.1" y2="566" stroke="#000" stroke-width="1.25"/>
<line x1="339.6" y1="549.5" x2="343.1" y2="549.5" stroke="#000" stroke-width="1.25"/>
<line x1="341.1" y1="533.4" x2="343.1" y2="533.4" stroke="#000" stroke-width="1.25"/>
<line x1="339.6" y1="517" x2="343.1" y2="517" stroke="#000" stroke-width="1.25"/>
<line x1="341.1" y1="500.8" x2="343.1" y2="500.8" stroke="#000" stroke-width="1.25"/>
<line x1="339.6" y1="484.5" x2="343.1" y2="484.5" stroke="#000" stroke-width="1.25"/>
<line x1="365.25" y1="648" x2="365.25" y2="649.6" stroke="#000" stroke-width="1"/>
<line x1="386.5" y1="648" x2="386.5" y2="651.2" stroke="#000" stroke-width="1"/>
<line x1="407.55" y1="648" x2="407.55" y2="649.6" stroke="#000" stroke-width="1"/>
<line x1="428.5" y1="648" x2="428.5" y2="651.2" stroke="#000" stroke-width="1"/>
<line x1="449.85" y1="648" x2="449.85" y2="649.6" stroke="#000" stroke-width="1"/>
<line x1="471" y1="648" x2="471" y2="651.2" stroke="#000" stroke-width="1"/>
<line x1="492.15" y1="648" x2="492.15" y2="649.6" stroke="#000" stroke-width="1"/>
<line x1="513.5" y1="648" x2="513.5" y2="651.2" stroke="#000" stroke-width="1"/>
<line x1="534.45" y1="648" x2="534.45" y2="649.6" stroke="#000" stroke-width="1"/>
<line x1="555.6" y1="648" x2="555.6" y2="651.2" stroke="#000" stroke-width="1"/>
<text transform="translate(338.5,650.1) scale(0.88,1)" font-size="9" font-weight="bold" text-anchor="end">0</text>
<text transform="translate(338.5,617.6) scale(0.88,1)" font-size="9" font-weight="bold" text-anchor="end">10</text>
<text transform="translate(338.5,585.1) scale(0.88,1)" font-size="9" font-weight="bold" text-anchor="end">20</text>
<text transform="translate(338.5,552.1) scale(0.88,1)" font-size="9" font-weight="bold" text-anchor="end">30</text>
<text transform="translate(338.5,519.6) scale(0.88,1)" font-size="9" font-weight="bold" text-anchor="end">40</text>
<text transform="translate(338.5,487.1) scale(0.88,1)" font-size="9" font-weight="bold" text-anchor="end">50</text>
<text transform="translate(344.1,659.6) scale(0.88,1)" font-size="9" font-weight="bold" text-anchor="middle">0</text>
<text transform="translate(386.5,659.6) scale(0.88,1)" font-size="9" font-weight="bold" text-anchor="middle">200</text>
<text transform="translate(428.5,659.6) scale(0.88,1)" font-size="9" font-weight="bold" text-anchor="middle">400</text>
<text transform="translate(471,659.6) scale(0.88,1)" font-size="9" font-weight="bold" text-anchor="middle">600</text>
<text transform="translate(513.5,659.6) scale(0.88,1)" font-size="9" font-weight="bold" text-anchor="middle">800</text>
<text transform="translate(555.6,659.6) scale(0.88,1)" font-size="9" font-weight="bold" text-anchor="middle">1000</text>
<text transform="translate(439.2,674.6) scale(0.93,1)" font-size="8.6" font-weight="bold" text-anchor="start">VR(V)</text>
<text transform="translate(317.9,585.2) rotate(-90) scale(0.92,1)" font-size="9.5" font-weight="bold" letter-spacing="0.15">IR(uA)</text>
<text x="363.7" y="707" font-weight="bold" font-size="10">Fig.2-Typical Reverse Characteristics</text>
</g>
</svg>
<!-- footer -->
<div class="hl" style="left:50px;top:731px;width:512px;height:1px;"></div>
<div class="a" style="left:141.5px;top:733px;font-size:12px;"><span class="bu">•</span> China  -  Germany  -  Korea  -  Singapore  -  United States <span class="bu">•</span></div>
<div class="a" style="left:150.3px;top:748px;font-size:12px;"><span class="bu" style="width:5.2px">•</span> http://www.smc-diodes.com  -  sales@ smc-diodes.com <span class="bu">•</span></div>
</body></html>
